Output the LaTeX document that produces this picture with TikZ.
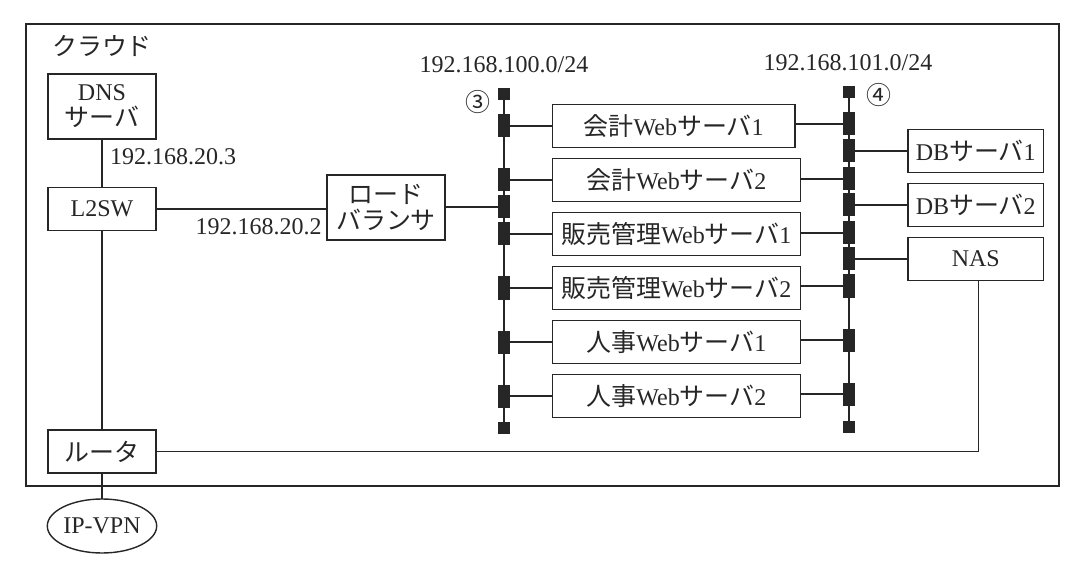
\documentclass[tikz,border=0pt]{standalone}
\usepackage{fontspec}
\usetikzlibrary{shapes.geometric}
\setmainfont{Liberation Serif}
\newfontfamily\cjk[Scale=1.04]{Noto Sans CJK JP}
\newcommand{\jp}[1]{{\cjk #1}}
\tikzset{
  box/.style={draw,rectangle,inner sep=0pt,outer sep=0pt,align=center,minimum height=43pt},
  port/.style={fill=black!85,inner sep=0pt,outer sep=0pt,minimum width=12pt,minimum height=23pt},
  endcap/.style={fill=black!85,inner sep=0pt,outer sep=0pt,minimum size=12pt},
  caption/.style={inner sep=0pt}
}
\begin{document}
\begin{tikzpicture}[x=1pt,y=-1pt,line width=1.4pt,color=black!85,font=\fontsize{24}{28}\selectfont]
\useasboundingbox (0,0) rectangle (1074,564);

% Draw the cloud frame
\draw (26,24) rectangle (1059,486);
\node[caption] (cloudname) at (102,46) {\jp{クラウド}};

% Left column
\node[box,minimum width=108pt,minimum height=65pt] (DNS) at (102,106.5) {DNS\\[-2pt]\jp{サーバ}};
\node[box,minimum width=108pt] (L2SW) at (102,209) {L2SW};
\node[box,minimum width=108pt] (router) at (102,451.5) {\jp{ルータ}};
\node[draw,ellipse,inner sep=0pt,outer sep=0pt,minimum width=108pt,minimum height=54pt] (VPN) at (102,526) {IP-VPN};
\node[box,minimum width=118pt,minimum height=65pt] (LB) at (386,207.5) {\jp{ロード}\\[-2pt]\jp{バランサ}};

% Left segment
\node[endcap] (topL) at (504,94) {};
\node[endcap] (botL) at (504,428) {};
\draw (topL) -- (botL);
\node[port] (portL1) at (504,126) {};
\node[port] (portL2) at (504,180) {};
\node[port] (portLB) at (504,207) {};
\node[port] (portL3) at (504,234) {};
\node[port] (portL4) at (504,288) {};
\node[port] (portL5) at (504,342) {};
\node[port] (portL6) at (504,396) {};

% Right segment
\node[endcap] (topR) at (849,92) {};
\node[endcap] (botR) at (849,427) {};
\draw (topR) -- (botR);
\node[port] (portR1) at (849,124) {};
\node[port] (portDB1) at (849,151) {};
\node[port] (portR2) at (849,179) {};
\node[port] (portDB2) at (849,205) {};
\node[port] (portR3) at (849,233) {};
\node[port] (portNAS) at (849,259) {};
\node[port] (portR4) at (849,286) {};
\node[port] (portR5) at (849,340) {};
\node[port] (portR6) at (849,394) {};

% Web servers
\node[box,minimum width=242.5pt] (web1) at (673.75,126) {\jp{会計}Web\jp{サーバ}1};
\node[box,minimum width=248pt] (web2) at (676.5,180) {\jp{会計}Web\jp{サーバ}2};
\node[box,minimum width=248pt] (web3) at (676.5,234) {\jp{販売管理}Web\jp{サーバ}1};
\node[box,minimum width=248pt] (web4) at (676.5,288) {\jp{販売管理}Web\jp{サーバ}2};
\node[box,minimum width=248pt] (web5) at (676.5,342) {\jp{人事}Web\jp{サーバ}1};
\node[box,minimum width=248pt] (web6) at (676.5,396) {\jp{人事}Web\jp{サーバ}2};

% Storage side
\node[box,minimum width=135.5pt] (DB1) at (975.75,151) {DB\jp{サーバ}1};
\node[box,minimum width=135.5pt] (DB2) at (975.75,205) {DB\jp{サーバ}2};
\node[box,minimum width=135.5pt] (NAS) at (975.75,259) {NAS};

% Connect the left column
\draw (DNS) -- (L2SW);
\draw (L2SW) -- (router);
\draw (router) -- (VPN);
\draw (L2SW.east) -- (L2SW.east -| LB.west);
\draw (LB.east |- portLB) -- (portLB);
\draw ([xshift=3pt]NAS.south) |- (router);

% Connect the servers
\draw (portL1) -- (web1);
\draw (portL2) -- (web2);
\draw (portL3) -- (web3);
\draw (portL4) -- (web4);
\draw (portL5) -- (web5);
\draw (portL6) -- (web6);
\draw (portR1) -- (portR1 -| web1.east);
\draw (portR2) -- (portR2 -| web2.east);
\draw (portR3) -- (portR3 -| web3.east);
\draw (portR4) -- (portR4 -| web4.east);
\draw (portR5) -- (portR5 -| web5.east);
\draw (portR6) -- (portR6 -| web6.east);
\draw (portDB1) -- (DB1);
\draw (portDB2) -- (DB2);
\draw (portNAS) -- (NAS);

% Addresses
\node[caption] (addrDNS) at (173,157) {192.168.20.3};
\node[caption] (addrLB) at (258.5,227) {192.168.20.2};
\node[caption] (netL) at (504,65) {192.168.100.0/24};
\node[caption] (netR) at (848,63) {192.168.101.0/24};
\node[caption] (markL) at (478,102) {\jp{③}};
\node[caption] (markR) at (879,95) {\jp{④}};

\end{tikzpicture}
\end{document}
